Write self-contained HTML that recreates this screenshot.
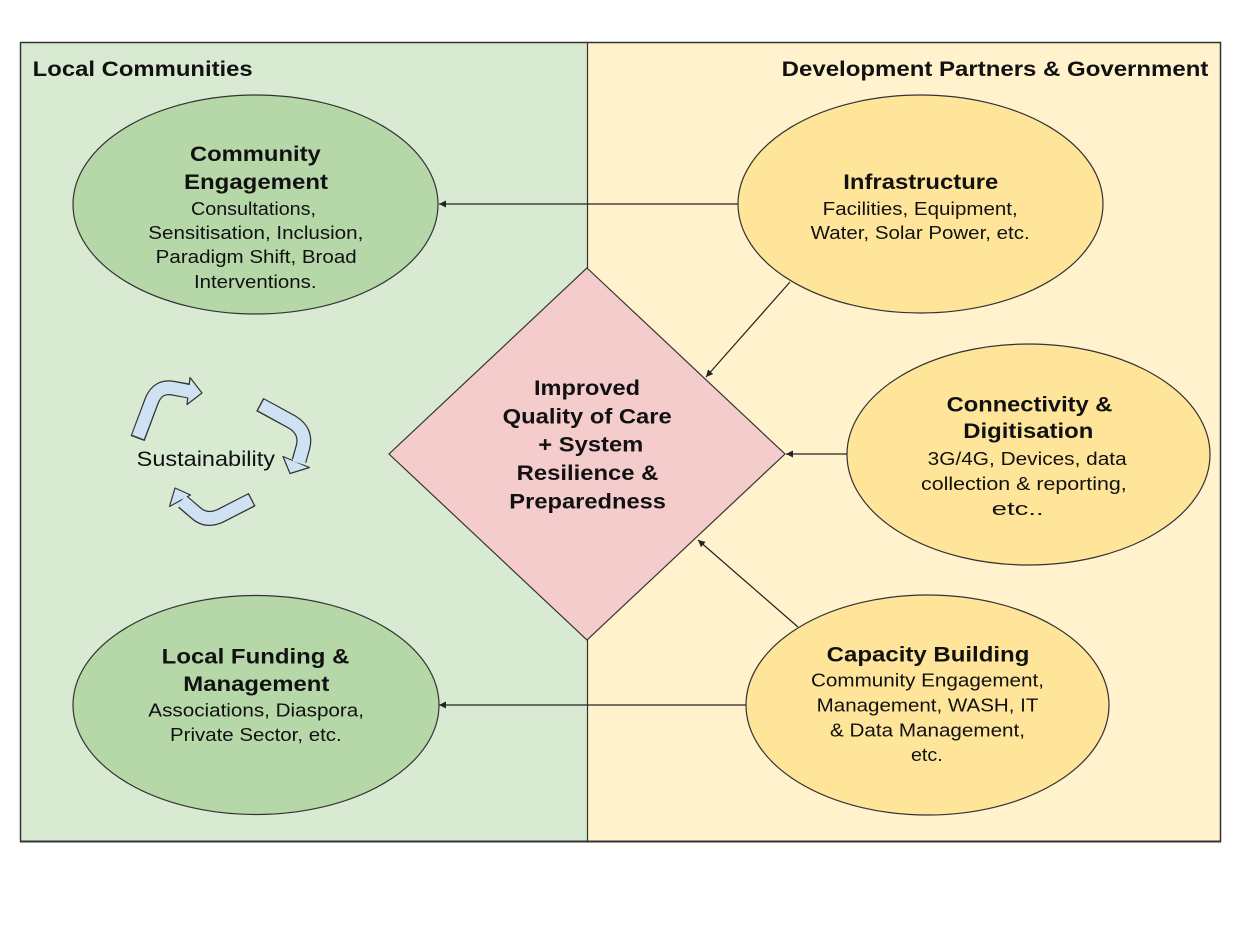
<!DOCTYPE html>
<html>
<head>
<meta charset="utf-8">
<style>
html,body{margin:0;padding:0;background:#fff;}
svg{display:block;}
text{font-family:"Liberation Sans",Arial,sans-serif;fill:#111;}
.b{font-weight:bold;font-size:21px;}
.r{font-size:18.5px;}
</style>
</head>
<body>
<svg width="1240" height="930" viewBox="0 0 1240 930" xmlns="http://www.w3.org/2000/svg">
<defs>
<marker id="ah" viewBox="0 0 10 10" refX="10" refY="5" markerWidth="7" markerHeight="7" markerUnits="userSpaceOnUse" orient="auto">
<path d="M0,0 L10,5 L0,10 z" fill="#222"/>
</marker>
</defs>
<rect x="0" y="0" width="1240" height="930" fill="#fff"/>
<!-- panels -->
<rect x="20.5" y="42.5" width="567" height="799" fill="#d9ead3"/>
<rect x="587.5" y="42.5" width="633" height="799" fill="#fff2cc"/>
<rect x="20.5" y="42.5" width="1200" height="799" fill="none" stroke="#333" stroke-width="1.5"/>
<line x1="20" y1="841.5" x2="1221" y2="841.5" stroke="#333" stroke-width="2"/>
<line x1="587.5" y1="42" x2="587.5" y2="842" stroke="#333" stroke-width="1.2"/>

<!-- titles -->
<text class="b" x="32.7" y="76" textLength="220" lengthAdjust="spacingAndGlyphs">Local Communities</text>
<text class="b" x="781.7" y="76" textLength="426.7" lengthAdjust="spacingAndGlyphs">Development Partners &amp; Government</text>

<!-- connectors -->
<line x1="738" y1="204" x2="439" y2="204" stroke="#222" stroke-width="1.2" marker-end="url(#ah)"/>
<line x1="790" y1="282" x2="706" y2="377" stroke="#222" stroke-width="1.2" marker-end="url(#ah)"/>
<line x1="847" y1="454" x2="786" y2="454" stroke="#222" stroke-width="1.2" marker-end="url(#ah)"/>
<line x1="798" y1="627" x2="698" y2="540" stroke="#222" stroke-width="1.2" marker-end="url(#ah)"/>
<line x1="746" y1="705" x2="439" y2="705" stroke="#222" stroke-width="1.2" marker-end="url(#ah)"/>

<!-- ellipses -->
<ellipse cx="255.5" cy="204.5" rx="182.5" ry="109.5" fill="#b6d7a8" stroke="#333" stroke-width="1.2"/>
<ellipse cx="256" cy="705" rx="183" ry="109.5" fill="#b6d7a8" stroke="#333" stroke-width="1.2"/>
<ellipse cx="920.5" cy="204" rx="182.5" ry="109" fill="#ffe599" stroke="#333" stroke-width="1.2"/>
<ellipse cx="1028.5" cy="454.5" rx="181.5" ry="110.5" fill="#ffe599" stroke="#333" stroke-width="1.2"/>
<ellipse cx="927.5" cy="705" rx="181.5" ry="110" fill="#ffe599" stroke="#333" stroke-width="1.2"/>

<!-- diamond -->
<polygon points="587,268 785,454 587,640 389,454" fill="#f4cccc" stroke="#333" stroke-width="1.2"/>

<!-- Community Engagement -->
<text class="b" x="190" y="161" textLength="130.7" lengthAdjust="spacingAndGlyphs">Community</text>
<text class="b" x="184" y="189" textLength="144" lengthAdjust="spacingAndGlyphs">Engagement</text>
<text class="r" x="191" y="215" textLength="125" lengthAdjust="spacingAndGlyphs">Consultations,</text>
<text class="r" x="148.3" y="239" textLength="215" lengthAdjust="spacingAndGlyphs">Sensitisation, Inclusion,</text>
<text class="r" x="155.7" y="263" textLength="201" lengthAdjust="spacingAndGlyphs">Paradigm Shift, Broad</text>
<text class="r" x="194" y="288" textLength="122.5" lengthAdjust="spacingAndGlyphs">Interventions.</text>

<!-- Local Funding -->
<text class="b" x="161.7" y="663.3" textLength="187.7" lengthAdjust="spacingAndGlyphs">Local Funding &amp;</text>
<text class="b" x="183.3" y="691" textLength="146" lengthAdjust="spacingAndGlyphs">Management</text>
<text class="r" x="148.3" y="716.7" textLength="215.7" lengthAdjust="spacingAndGlyphs">Associations, Diaspora,</text>
<text class="r" x="170" y="741" textLength="171.7" lengthAdjust="spacingAndGlyphs">Private Sector, etc.</text>

<!-- Infrastructure -->
<text class="b" x="843.3" y="189" textLength="155" lengthAdjust="spacingAndGlyphs">Infrastructure</text>
<text class="r" x="822.7" y="215" textLength="195" lengthAdjust="spacingAndGlyphs">Facilities, Equipment,</text>
<text class="r" x="810.7" y="239" textLength="219" lengthAdjust="spacingAndGlyphs">Water, Solar Power, etc.</text>

<!-- Connectivity -->
<text class="b" x="946.7" y="411.7" textLength="165.7" lengthAdjust="spacingAndGlyphs">Connectivity &amp;</text>
<text class="b" x="963.3" y="438" textLength="130" lengthAdjust="spacingAndGlyphs">Digitisation</text>
<text class="r" x="927.7" y="465" textLength="199" lengthAdjust="spacingAndGlyphs">3G/4G, Devices, data</text>
<text class="r" x="921" y="490" textLength="205.7" lengthAdjust="spacingAndGlyphs">collection &amp; reporting,</text>
<text class="r" x="991.7" y="515" textLength="52" lengthAdjust="spacingAndGlyphs">etc..</text>

<!-- Capacity Building -->
<text class="b" x="826.7" y="661.7" textLength="202.7" lengthAdjust="spacingAndGlyphs">Capacity Building</text>
<text class="r" x="811" y="686.7" textLength="233" lengthAdjust="spacingAndGlyphs">Community Engagement,</text>
<text class="r" x="816.7" y="711.7" textLength="221.7" lengthAdjust="spacingAndGlyphs">Management, WASH, IT</text>
<text class="r" x="830" y="736.7" textLength="195" lengthAdjust="spacingAndGlyphs">&amp; Data Management,</text>
<text class="r" x="911" y="761" textLength="31.7" lengthAdjust="spacingAndGlyphs">etc.</text>

<!-- Diamond text -->
<text class="b" x="534" y="395" textLength="106" lengthAdjust="spacingAndGlyphs">Improved</text>
<text class="b" x="502.7" y="423.3" textLength="169" lengthAdjust="spacingAndGlyphs">Quality of Care</text>
<text class="b" x="538.3" y="451.7" textLength="105" lengthAdjust="spacingAndGlyphs">+ System</text>
<text class="b" x="516.7" y="480" textLength="141.7" lengthAdjust="spacingAndGlyphs">Resilience &amp;</text>
<text class="b" x="509.3" y="508.3" textLength="156.7" lengthAdjust="spacingAndGlyphs">Preparedness</text>

<!-- Sustainability -->
<text x="136.7" y="466" font-size="21" textLength="138.3" lengthAdjust="spacingAndGlyphs">Sustainability</text>

<!-- Sustainability cycle arrows -->
<g fill="none" stroke-linejoin="round">
  <!-- arrow 1 -->
  <path d="M137.6,438.5 L152,400 Q158,386 172,388 L189,391" stroke="#333" stroke-width="15"/>
  <polygon points="190,377.5 202,393 187,404.5" fill="#cfe2f3" stroke="#333" stroke-width="1.2"/>
  <path d="M138,437 L152,400 Q158,386 172,388 L190,391.5" stroke="#cfe2f3" stroke-width="12.5"/>
  <!-- arrow 2 -->
  <path d="M259.7,404.5 L292,422 Q307,431 303,447 L299,461" stroke="#333" stroke-width="15"/>
  <polygon points="283,456.5 290,473.5 309.5,467.5" fill="#cfe2f3" stroke="#333" stroke-width="1.2"/>
  <path d="M261,405 L292,422 Q307,431 303,447 L298.5,463" stroke="#cfe2f3" stroke-width="12.5"/>
  <!-- arrow 3 -->
  <path d="M252.2,499.5 L220,516 Q206,522 196,513 L183,502" stroke="#333" stroke-width="15"/>
  <polygon points="175,488 169.5,506.5 190.5,495" fill="#cfe2f3" stroke="#333" stroke-width="1.2"/>
  <path d="M251,500 L220,516 Q206,522 196,513 L181.5,500.5" stroke="#cfe2f3" stroke-width="12.5"/>
</g>
</svg>
</body>
</html>
